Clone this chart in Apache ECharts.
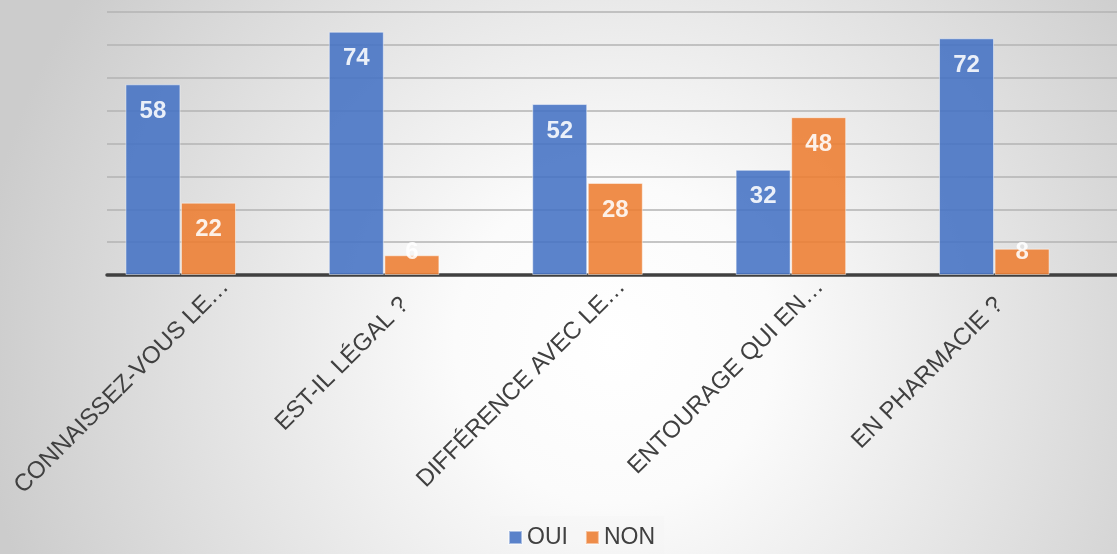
<!DOCTYPE html>
<html><head><meta charset="utf-8">
<script src="https://cdn.jsdelivr.net/npm/echarts@6/dist/echarts.min.js"></script>
<style>html,body{margin:0;padding:0;background:#fff;}#c{width:1117px;height:554px;}</style>
</head><body><div id="c"></div>
<script>
const categories = ['CONNAISSEZ-VOUS LE…', 'EST-IL LÉGAL ?', 'DIFFÉRENCE AVEC LE…', 'ENTOURAGE QUI EN…', 'EN PHARMACIE ?'];
const seriesNames = ['OUI', 'NON'];
const ouiValues = [58, 74, 52, 32, 72];
const nonValues = [22, 6, 28, 48, 8];
const axisMin = 0, axisMax = 80, axisStep = 10;

const FONT = "'Liberation Sans', Arial, sans-serif";
const TXT = '#404040';

function labelItems(cats) {
  return cats.map(c => ({
    value: c,
    textStyle: c.endsWith('…') ? {} : { padding: [0, 26, 0, 0] }
  }));
}
function barData(vals) {
  return vals.map(v => v < 10
    ? { value: v, label: { position: 'insideBottom', distance: 11 } }
    : v);
}
const barStyle = (color) => ({
  color: color, opacity: 0.88,
  borderColor: 'rgba(255,255,255,0.55)', borderWidth: 1
});
const dataLabel = { show: true, position: 'insideTop', distance: 15, color: '#fff',
  fontWeight: 'bold', fontSize: 24, fontFamily: FONT };

const chart = echarts.init(document.getElementById('c'), null, { renderer: 'canvas' });
chart.setOption({
  animation: false,
  backgroundColor: {
    type: 'radial', x: 0.55, y: 0.62, r: 1.15,
    colorStops: [
      { offset: 0, color: '#ffffff' },
      { offset: 0.25, color: '#fbfbfb' },
      { offset: 1, color: '#cccccc' }
    ]
  },
  textStyle: { fontFamily: FONT },
  grid: [
    { left: 107, right: 0, top: 12, bottom: 279 },
    { left: 79, right: 21, top: 12, bottom: 279 },
    { left: 126, right: -26, top: 12, bottom: 279 }
  ],
  xAxis: [
    { type: 'category', gridIndex: 0, data: categories,
      axisLine: { show: true, lineStyle: { color: '#404040', width: 3.5 } },
      axisTick: { show: false }, axisLabel: { show: false }, splitLine: { show: false } },
    { type: 'category', gridIndex: 1, data: categories,
      axisLine: { show: false }, axisTick: { show: false }, axisLabel: { show: false } },
    { type: 'category', gridIndex: 2, data: labelItems(categories),
      axisLine: { show: false }, axisTick: { show: false },
      axisLabel: { show: true, rotate: 45, margin: 8, interval: 0,
        fontSize: 24, color: TXT, fontFamily: FONT } }
  ],
  yAxis: [
    { type: 'value', gridIndex: 0, min: axisMin, max: axisMax, interval: axisStep,
      axisLine: { show: false }, axisTick: { show: false }, axisLabel: { show: false },
      splitLine: { show: true, lineStyle: { color: '#b3b3b3', width: 1.5 } } },
    { type: 'value', gridIndex: 1, min: axisMin, max: axisMax, interval: axisStep, show: false,
      splitLine: { show: false } },
    { type: 'value', gridIndex: 2, min: axisMin, max: axisMax, interval: axisStep, show: false,
      splitLine: { show: false } }
  ],
  legend: {
    data: seriesNames,
    left: 490, top: 516,
    padding: [10, 9, 10, 18],
    backgroundColor: 'rgba(235,235,235,0.12)',
    icon: 'rect', itemWidth: 13, itemHeight: 13, itemGap: 17,
    textStyle: { fontSize: 23, color: TXT, fontFamily: FONT }
  },
  series: [
    { name: seriesNames[0], type: 'bar', xAxisIndex: 1, yAxisIndex: 1,
      data: barData(ouiValues), barWidth: 55, barGap: '1%',
      itemStyle: barStyle('#4472C4'), label: dataLabel },
    { name: seriesNames[1], type: 'bar', xAxisIndex: 1, yAxisIndex: 1,
      data: barData(nonValues), barWidth: 55, barGap: '1%',
      itemStyle: barStyle('#ED7D31'), label: dataLabel }
  ]
});
</script>
</body></html>
